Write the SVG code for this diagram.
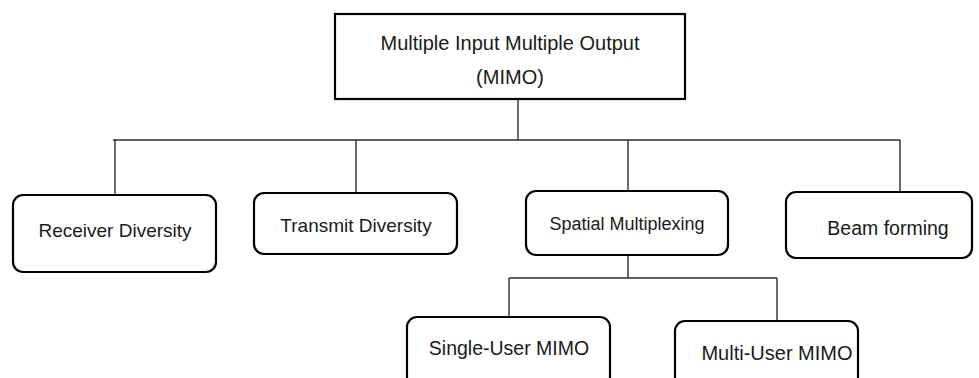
<svg xmlns="http://www.w3.org/2000/svg" width="979" height="378" viewBox="0 0 979 378">
  <style>
    .box { fill: #ffffff; stroke: #000000; stroke-width: 2.2; }
    .link { fill: none; stroke: #2b2b2b; stroke-width: 1.4; }
    text { font-family: "Liberation Sans", Arial, sans-serif; fill: #1a1a1a; text-anchor: middle; }
  </style>
  <rect width="979" height="378" fill="#ffffff"/>

  <!-- connectors -->
  <g id="connectors">
    <line class="link" x1="518" y1="99" x2="518" y2="140"/>
    <line class="link" x1="113" y1="140" x2="900" y2="140"/>
    <line class="link" x1="115" y1="140" x2="115" y2="195"/>
    <line class="link" x1="356" y1="140" x2="356" y2="193"/>
    <line class="link" x1="628" y1="140" x2="628" y2="191"/>
    <line class="link" x1="900" y1="140" x2="900" y2="192"/>
    <line class="link" x1="628" y1="255" x2="628" y2="278"/>
    <line class="link" x1="509" y1="278" x2="777" y2="278"/>
    <line class="link" x1="509" y1="278" x2="509" y2="317"/>
    <line class="link" x1="777" y1="278" x2="777" y2="321"/>
  </g>

  <g id="mimo">
    <rect class="box" x="335" y="14" width="350" height="85"/>
    <text x="510" y="50" font-size="20">Multiple Input Multiple Output</text>
    <text x="510" y="84" font-size="20">(MIMO)</text>
  </g>

  <g id="receiver-diversity">
    <rect class="box" x="13" y="195" width="203" height="77" rx="10"/>
    <text x="115" y="237" font-size="19">Receiver Diversity</text>
  </g>

  <g id="transmit-diversity">
    <rect class="box" x="254" y="193" width="203" height="61" rx="10"/>
    <text x="356" y="232" font-size="19">Transmit Diversity</text>
  </g>

  <g id="spatial-multiplexing">
    <rect class="box" x="526" y="191" width="202" height="64" rx="10"/>
    <text x="627" y="230" font-size="18">Spatial Multiplexing</text>
  </g>

  <g id="beam-forming">
    <rect class="box" x="786" y="192" width="186" height="66" rx="10"/>
    <text x="888" y="235" font-size="19.5">Beam forming</text>
  </g>

  <g id="single-user-mimo">
    <rect class="box" x="407" y="317" width="203" height="70" rx="10"/>
    <text x="509" y="355" font-size="19.5">Single-User MIMO</text>
  </g>

  <g id="multi-user-mimo">
    <rect class="box" x="675" y="321" width="183" height="70" rx="10"/>
    <text x="777" y="360" font-size="20">Multi-User MIMO</text>
  </g>
</svg>
